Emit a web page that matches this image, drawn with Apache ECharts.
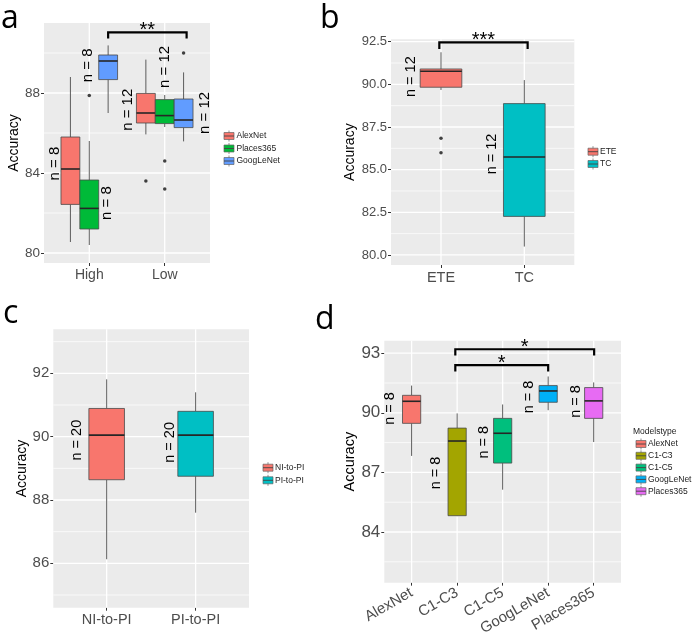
<!DOCTYPE html>
<html>
<head>
<meta charset="utf-8">
<script src="https://cdn.jsdelivr.net/npm/echarts@6/dist/echarts.min.js"></script>
<style>html,body{margin:0;padding:0;background:#fff}#chart{width:694px;height:638px}</style>
</head>
<body>
<div id="chart"></div>
<script>
// ================= DATA =================
// Box stats: [lower whisker, Q1, median, Q3, upper whisker]
// ---- Panel a ----
const aGroups = ['High', 'Low'];
const aModels = ['AlexNet', 'Places365', 'GoogLeNet'];
const aAlexNet = [[80.55, 82.43, 84.2, 85.8, 88.8], [85.93, 86.5, 87.0, 87.98, 89.67]];
const aPlaces365 = [[80.4, 81.2, 82.23, 83.65, 85.6], [86.3, 86.47, 86.87, 87.67, 87.9]];
const aGoogLeNet = [[87.0, 88.67, 89.6, 89.9, 90.38], [85.58, 86.27, 86.65, 87.7, 89.03]];
const aAlexNetOut = [[], [83.6]];
const aPlaces365Out = [[87.88], [84.6, 83.2]];
const aGoogLeNetOut = [[], [90.0]];
const aAlexNetN = [8, 12];
const aPlaces365N = [8, 12];
const aGoogLeNetN = [8, 12];
const aYTicks = [80, 84, 88];
const aYMinor = [82, 86, 90];
const aSigLabels = ['**'];

// ---- Panel b ----
const bGroups = ['ETE', 'TC'];
const bBoxes = [[89.67, 89.83, 90.77, 90.9, 91.88], [80.49, 82.26, 85.74, 88.87, 90.25]];
const bOutliers = [[86.84, 85.99], []];
const bN = [12, 12];
const bYTicks = [80, 82.5, 85, 87.5, 90, 92.5];
const bYMinor = [81.25, 83.75, 86.25, 88.75, 91.25];
const bSigLabels = ['***'];

// ---- Panel c ----
const cGroups = ['NI-to-PI', 'PI-to-PI'];
const cBoxes = [[86.13, 88.64, 90.05, 90.89, 91.81], [87.6, 88.75, 90.05, 90.8, 91.4]];
const cN = [20, 20];
const cYTicks = [86, 88, 90, 92];
const cYMinor = [85, 87, 89, 91, 93];

// ---- Panel d ----
const dGroups = ['AlexNet', 'C1-C3', 'C1-C5', 'GoogLeNet', 'Places365'];
const dBoxes = [
  [87.83, 89.47, 90.58, 90.88, 91.37],
  [84.8, 84.82, 88.58, 89.23, 89.97],
  [86.13, 87.47, 88.97, 89.72, 90.42],
  [90.13, 90.53, 91.1, 91.37, 91.83],
  [88.53, 89.72, 90.6, 91.27, 91.53]
];
const dN = [8, 8, 8, 8, 8];
const dYTicks = [84, 87, 90, 93];
const dYMinor = [82.5, 85.5, 88.5, 91.5];
const dSigLabels = ['*', '*'];

// ================= ANNOTATION PLACEMENT (axis units) =================
const aNPos = {
  AlexNet: [[0.546, 84.47], [1.507, 87.16]],
  Places365: [[1.231, 82.5], [1.999, 89.3]],
  GoogLeNet: [[0.977, 89.38], [2.534, 87.0]]
};
const bNPos = [[0.636, 90.45], [1.608, 85.92]];
const cNPos = [[0.663, 89.89], [1.713, 89.82]];
const dNPos = [[0.525, 90.22], [1.529, 86.97], [2.59, 88.52], [3.579, 90.8], [4.604, 90.57]];
// brackets: [x1, yTop, x2, yTip]
const aSigPos = [[1.25, 91.03, 2.29, 90.72]];
const bSigPos = [[0.98, 92.46, 2.04, 92.07]];
const dSigPos = [[1.96, 93.2, 5.01, 92.88], [1.96, 92.4, 4.0, 92.08]];

// ================= STYLE =================
const FONT = '"Liberation Sans", Arial, sans-serif';
const NARROW = '"Liberation Sans Narrow", "Arial Narrow", "Liberation Sans", sans-serif';
const aColors = { AlexNet: '#F8766D', Places365: '#00BA38', GoogLeNet: '#619CFF' };
const bcColors = ['#F8766D', '#00BFC4'];
const dColors = ['#F8766D', '#A3A500', '#00BF7D', '#00B0F6', '#E76BF3'];

const grids = [
  { left: 44, top: 23, width: 166, height: 240 },
  { left: 391, top: 39.3, width: 183.3, height: 225.7 },
  { left: 53.3, top: 329.3, width: 195.7, height: 278.4 },
  { left: 384.3, top: 340.7, width: 236.7, height: 243.6 }
];

function boxSeries(gi, color, items, widthUnits) {
  return {
    type: 'custom', xAxisIndex: gi, yAxisIndex: gi, z: 3,
    encode: { x: 0, y: [1, 2, 3, 4, 5] },
    data: items,
    renderItem(params, api) {
      const x = api.value(0);
      const lo = api.coord([x, api.value(1)]);
      const q1 = api.coord([x, api.value(2)]);
      const md = api.coord([x, api.value(3)]);
      const q3 = api.coord([x, api.value(4)]);
      const hi = api.coord([x, api.value(5)]);
      const hw = api.size([widthUnits, 0])[0] / 2;
      const cx = q1[0];
      return {
        type: 'group', children: [
          { type: 'line', shape: { x1: cx, y1: hi[1], x2: cx, y2: q3[1] }, style: { stroke: '#5c5c5c', lineWidth: 1 } },
          { type: 'line', shape: { x1: cx, y1: q1[1], x2: cx, y2: lo[1] }, style: { stroke: '#5c5c5c', lineWidth: 1 } },
          { type: 'rect', shape: { x: cx - hw, y: q3[1], width: 2 * hw, height: q1[1] - q3[1] }, style: { fill: color, stroke: '#4a4a4a', lineWidth: 0.8 } },
          { type: 'line', shape: { x1: cx - hw, y1: md[1], x2: cx + hw, y2: md[1] }, style: { stroke: '#262626', lineWidth: 1.6 } }
        ]
      };
    }
  };
}

function outlierSeries(gi, pts) {
  return {
    type: 'scatter', xAxisIndex: gi, yAxisIndex: gi, z: 4, data: pts,
    symbolSize: 3.5, itemStyle: { color: '#111' }, silent: true
  };
}

function textSeries(gi, positions, texts, fontSize) {
  return {
    type: 'custom', xAxisIndex: gi, yAxisIndex: gi, z: 5, data: positions, silent: true,
    renderItem(params, api) {
      const p = api.coord([api.value(0), api.value(1)]);
      return {
        type: 'text', x: p[0], y: p[1], rotation: Math.PI / 2,
        style: { text: texts[params.dataIndex], fontSize: fontSize, fontFamily: FONT, fill: '#000', align: 'center', verticalAlign: 'middle' }
      };
    }
  };
}

function bracketSeries(gi, pos, labels) {
  return {
    type: 'custom', xAxisIndex: gi, yAxisIndex: gi, z: 5, data: pos, silent: true,
    renderItem(params, api) {
      const p1 = api.coord([api.value(0), api.value(3)]);
      const p2 = api.coord([api.value(0), api.value(1)]);
      const p3 = api.coord([api.value(2), api.value(1)]);
      const p4 = api.coord([api.value(2), api.value(3)]);
      return {
        type: 'group', children: [
          { type: 'polyline', shape: { points: [p1, p2, p3, p4] }, style: { stroke: '#000', lineWidth: 2.2, fill: null } },
          { type: 'text', x: (p2[0] + p3[0]) / 2, y: p2[1] - 2, style: { text: labels[params.dataIndex], fontSize: 20, fontFamily: FONT, fill: '#000', align: 'center', verticalAlign: 'middle' } }
        ]
      };
    }
  };
}

function gridLineSeries(gi, values, horizontal, width, anchor) {
  return {
    type: 'custom', xAxisIndex: gi, yAxisIndex: gi, z: 1, silent: true,
    data: values.map(v => horizontal ? [anchor, v] : [v, anchor]),
    renderItem(params, api) {
      const cs = params.coordSys;
      const p = api.coord([api.value(0), api.value(1)]);
      const shape = horizontal
        ? { x1: cs.x, y1: p[1], x2: cs.x + cs.width, y2: p[1] }
        : { x1: p[0], y1: cs.y, x2: p[0], y2: cs.y + cs.height };
      return { type: 'line', shape: shape, style: { stroke: '#ffffff', lineWidth: width } };
    }
  };
}

function xAxisCfg(gi, groups, fontSize, rotate) {
  const ticks = groups.map((g, i) => i + 1);
  return {
    type: 'value', gridIndex: gi, min: 0.4, max: groups.length + 0.6,
    axisLine: { show: false },
    axisTick: { show: true, length: 3, customValues: ticks, lineStyle: { color: '#333', width: 1 } },
    axisLabel: {
      customValues: ticks, fontSize: fontSize, color: '#4D4D4D', fontFamily: FONT, margin: rotate ? 9 : 5, rotate: rotate || 0,
      formatter: v => groups[Math.round(v) - 1]
    },
    splitLine: { show: false }
  };
}

function yAxisCfg(gi, min, max, ticks, fontSize, decimals, nameGap, nameSize) {
  return {
    type: 'value', gridIndex: gi, min: min, max: max,
    axisLine: { show: false },
    axisTick: { show: true, length: 3, customValues: ticks, lineStyle: { color: '#333', width: 1 } },
    axisLabel: { customValues: ticks, fontSize: fontSize, color: '#4D4D4D', fontFamily: FONT, margin: 4, formatter: v => v.toFixed(decimals) },
    splitLine: { show: false },
    name: 'Accuracy', nameLocation: 'middle', nameGap: nameGap,
    nameTextStyle: { fontSize: nameSize, color: '#000', fontFamily: FONT }
  };
}

// ================= SERIES =================
const series = [];
// gridlines
series.push(gridLineSeries(0, aYTicks, true, 1.3, 1), gridLineSeries(0, aYMinor, true, 0.7, 1), gridLineSeries(0, aGroups.map((g, i) => i + 1), false, 1.3, 85));
series.push(gridLineSeries(1, bYTicks, true, 1.3, 1), gridLineSeries(1, bYMinor, true, 0.7, 1), gridLineSeries(1, bGroups.map((g, i) => i + 1), false, 1.3, 85));
series.push(gridLineSeries(2, cYTicks, true, 1.3, 1), gridLineSeries(2, cYMinor, true, 0.7, 1), gridLineSeries(2, cGroups.map((g, i) => i + 1), false, 1.3, 88));
series.push(gridLineSeries(3, dYTicks, true, 1.3, 1), gridLineSeries(3, dYMinor, true, 0.7, 1), gridLineSeries(3, dGroups.map((g, i) => i + 1), false, 1.3, 88));

// panel a
const aStats = { AlexNet: aAlexNet, Places365: aPlaces365, GoogLeNet: aGoogLeNet };
const aOut = { AlexNet: aAlexNetOut, Places365: aPlaces365Out, GoogLeNet: aGoogLeNetOut };
const aNs = { AlexNet: aAlexNetN, Places365: aPlaces365N, GoogLeNet: aGoogLeNetN };
const aDodge = 0.25;
aModels.forEach((m, mi) => {
  const off = (mi - 1) * aDodge;
  series.push(boxSeries(0, aColors[m], aStats[m].map((s, k) => [k + 1 + off].concat(s)), aDodge));
  const pts = [];
  aOut[m].forEach((arr, k) => arr.forEach(v => pts.push([k + 1 + off, v])));
  series.push(outlierSeries(0, pts));
  series.push(textSeries(0, aNPos[m], aNs[m].map(n => 'n = ' + n), 15));
});
series.push(bracketSeries(0, aSigPos, aSigLabels));

// panel b
series.push(boxSeries(1, bcColors[0], [[1].concat(bBoxes[0])], 0.5));
series.push(boxSeries(1, bcColors[1], [[2].concat(bBoxes[1])], 0.5));
const bPts = [];
bOutliers.forEach((arr, k) => arr.forEach(v => bPts.push([k + 1, v])));
series.push(outlierSeries(1, bPts));
series.push(textSeries(1, bNPos, bN.map(n => 'n = ' + n), 14.5));
series.push(bracketSeries(1, bSigPos, bSigLabels));

// panel c
series.push(boxSeries(2, bcColors[0], [[1].concat(cBoxes[0])], 0.4));
series.push(boxSeries(2, bcColors[1], [[2].concat(cBoxes[1])], 0.4));
series.push(textSeries(2, cNPos, cN.map(n => 'n = ' + n), 14.5));

// panel d
dBoxes.forEach((b, i) => series.push(boxSeries(3, dColors[i], [[i + 1].concat(b)], 0.4)));
series.push(textSeries(3, dNPos, dN.map(n => 'n = ' + n), 14.5));
series.push(bracketSeries(3, dSigPos, dSigLabels));

// ================= LEGENDS & LETTERS (graphic) =================
function legendGraphic(x, ys, names, colors, textX) {
  const els = [];
  names.forEach((n, i) => {
    const y = ys[i];
    els.push({ type: 'line', shape: { x1: x + 5, y1: y - 5.5, x2: x + 5, y2: y + 5.5 }, style: { stroke: '#777', lineWidth: 0.8 } });
    els.push({ type: 'rect', shape: { x: x, y: y - 3.5, width: 10, height: 7 }, style: { fill: colors[i], stroke: '#666', lineWidth: 0.7 } });
    els.push({ type: 'line', shape: { x1: x, y1: y, x2: x + 10, y2: y }, style: { stroke: '#444', lineWidth: 0.9 } });
    els.push({ type: 'text', x: textX, y: y, style: { text: n, fontSize: 8.5, fontFamily: NARROW, fill: '#222', align: 'left', verticalAlign: 'middle' } });
  });
  return els;
}
function letter(t, x, y) {
  return { type: 'text', x: x, y: y, style: { text: t, fontSize: 32, fontFamily: '"Open Sans", sans-serif', fill: '#000', align: 'left', verticalAlign: 'middle' } };
}
const graphics = [].concat(
  legendGraphic(224, [136, 148.5, 161], aModels, aModels.map(m => aColors[m]), 236.5),
  legendGraphic(588, [151.7, 164], bGroups, bcColors, 600),
  legendGraphic(263, [467.7, 480.3], cGroups, bcColors, 275),
  [{ type: 'text', x: 633, y: 431.7, style: { text: 'Modelstype', fontSize: 8.5, fontFamily: NARROW, fill: '#222', align: 'left', verticalAlign: 'middle' } }],
  legendGraphic(636, [444, 455.8, 467.6, 479.4, 491.2], dGroups, dColors, 648),
  [letter('a', 1, 18.6), letter('b', 320, 18.6), letter('c', 3, 314), letter('d', 315, 319.6)]
);

// ================= CHART =================
const chart = echarts.init(document.getElementById('chart'), null, { renderer: 'canvas' });
chart.setOption({
  animation: false,
  backgroundColor: '#ffffff',
  grid: grids.map(g => Object.assign({ show: true, backgroundColor: '#EBEBEB', borderWidth: 0 }, g)),
  xAxis: [
    xAxisCfg(0, aGroups, 14),
    xAxisCfg(1, bGroups, 14.5),
    xAxisCfg(2, cGroups, 14.5),
    xAxisCfg(3, dGroups, 15, 30)
  ],
  yAxis: [
    yAxisCfg(0, 79.5, 91.5, aYTicks, 13.5, 0, 19, 14),
    yAxisCfg(1, 79.41, 92.64, bYTicks, 13, 1, 34, 14),
    yAxisCfg(2, 84.6, 93.39, cYTicks, 15, 0, 19, 14),
    yAxisCfg(3, 81.45, 93.63, dYTicks, 17, 0, 18, 14.5)
  ],
  series: series,
  graphic: { elements: graphics }
});
</script>
</body>
</html>
